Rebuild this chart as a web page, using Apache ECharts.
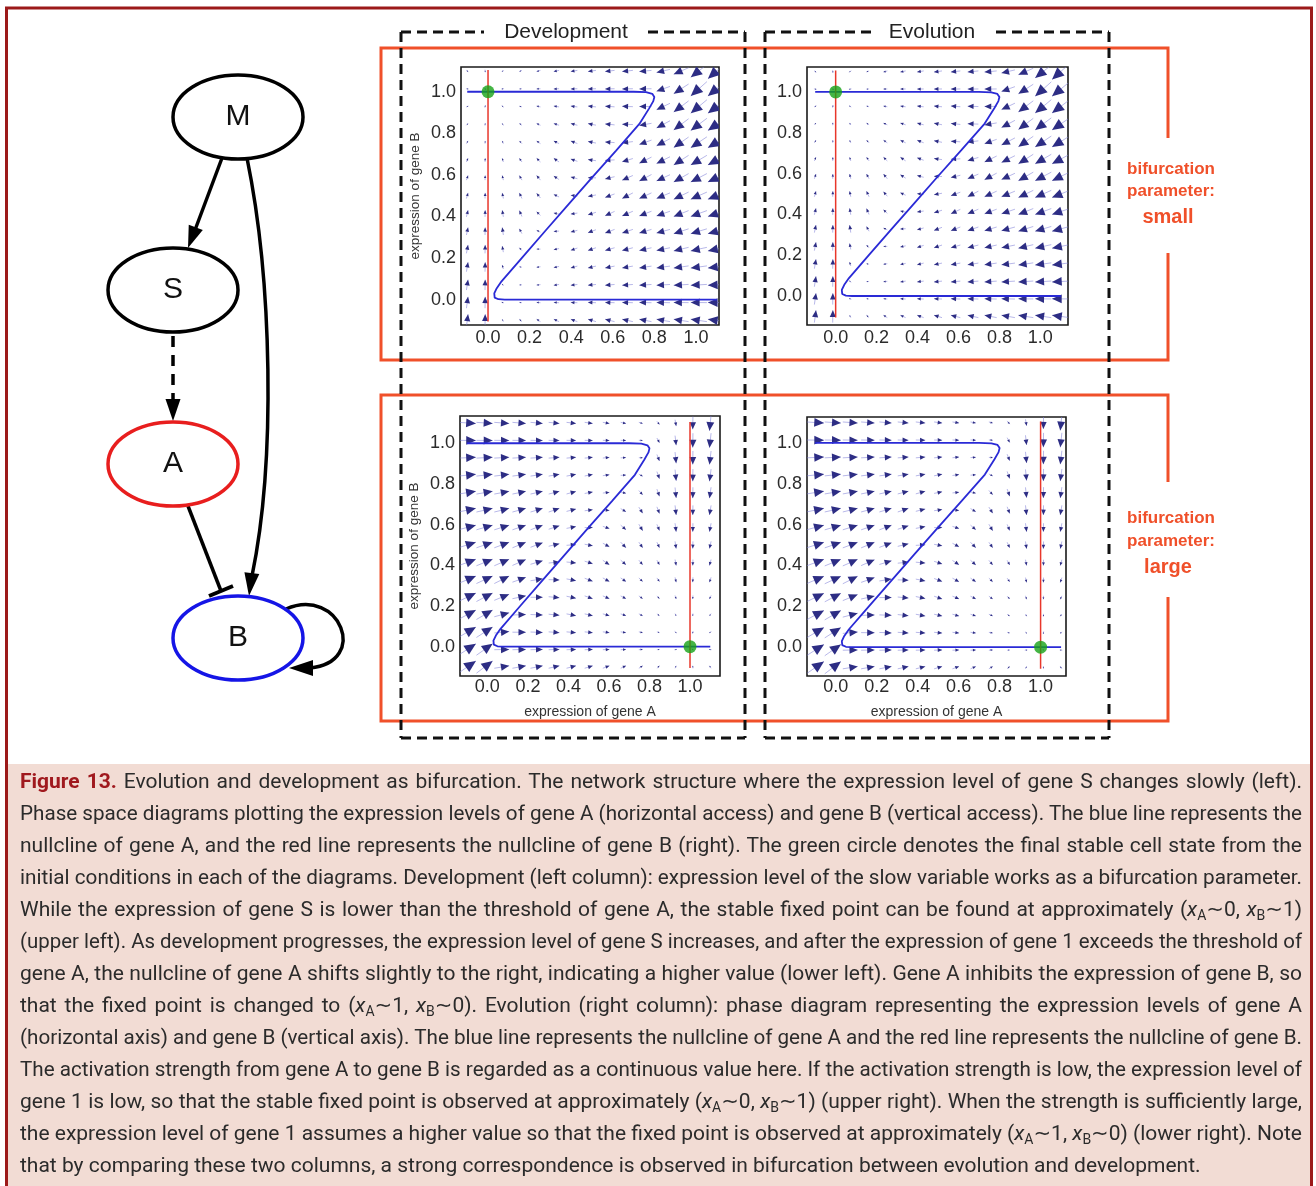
<!DOCTYPE html>
<html>
<head>
<meta charset="utf-8">
<script src="https://cdn.jsdelivr.net/npm/echarts@6/dist/echarts.min.js"></script>
<style>
  html, body { margin: 0; padding: 0; background: #fff; }
  #wrap { position: relative; width: 1316px; height: 1186px; overflow: hidden; }
  #chart { position: absolute; left: 0; top: 0; width: 1316px; height: 1186px; }
  #caption { position: absolute; left: 20px; top: 765px; width: 1282px; z-index: 2;
    font-family: Roboto, 'Noto Sans', 'DejaVu Sans', sans-serif; font-size: 21px; color: #2b2b2b; }
  #caption .ln { height: 32px; line-height: 32px; white-space: nowrap; }
  #caption .fig { color: #a0191e; font-weight: bold; }
  #caption sub { font-size: 14px; vertical-align: -4px; line-height: 0; }
</style>
</head>
<body>
<div id="wrap">
  <div id="chart"></div>
  <div id="caption"></div>
</div>
<script>
// ---- data ----
const tickValues = [0, 0.2, 0.4, 0.6, 0.8, 1.0];

// sample positions of the quiver arrows (same on both axes)
const arrowPos = [-0.1, -0.014, 0.071, 0.157, 0.243, 0.329, 0.414, 0.5, 0.586, 0.671, 0.757, 0.843, 0.929, 1.014, 1.1];

// horizontal flow (gene A) per column, small / large bifurcation parameter
const flowASmall = [1.0, 0.1, -0.7, -1.6, -2.4, -3.3, -4.1, -5.0, -5.9, -6.7, -7.6, -8.4, -9.3, -10.1, -11.0];
const flowALarge = [11.0, 10.1, 9.3, 8.4, 7.6, 6.7, 5.9, 5.0, 4.1, 3.3, 2.4, 1.6, 0.7, -0.1, -1.0];

// vertical flow (gene B), rows from y = 1.1 (top) down to y = -0.1
const flowB = [
  [-0.7, -0.7, -0.7, -0.7, -0.7, -0.7, -0.7, -0.7, -0.7, -0.7, -0.7, -2.0, -4.0, -8.0, -9.9],
  [-0.1, -0.1, -0.1, -0.1, -0.1, -0.1, -0.1, -0.1, -0.1, -0.1, -0.1, -3.0, -6.0, -9.0, -9.1],
  [ 0.5,  0.5,  0.5,  0.5,  0.5,  0.5,  0.5,  0.5,  0.4,  0.2,  0.0, -4.0, -7.0, -8.4, -8.4],
  [ 1.1,  1.1,  1.1,  1.1,  1.1,  1.1,  1.1,  1.0,  0.6,  0.2, -1.3, -4.5, -7.0, -7.6, -7.6],
  [ 1.7,  1.7,  1.7,  1.7,  1.7,  1.7,  1.6,  1.0,  0.4, -0.8, -2.7, -4.5, -6.5, -6.8, -6.8],
  [ 2.3,  2.3,  2.3,  2.3,  2.3,  2.3,  1.5,  0.7, -0.3, -2.0, -3.8, -4.2, -6.0, -6.0, -6.0],
  [ 2.9,  2.9,  2.9,  2.9,  2.9,  2.2,  1.1,  0.1, -1.4, -2.9, -4.1, -3.9, -5.3, -5.3, -5.3],
  [ 3.5,  3.5,  3.5,  3.5,  2.9,  1.6,  0.4, -0.9, -2.2, -3.5, -3.5, -3.5, -4.5, -4.5, -4.5],
  [ 4.1,  4.1,  4.1,  3.7,  2.3,  0.7, -0.6, -1.6, -2.7, -2.9, -2.9, -2.9, -3.7, -3.7, -3.7],
  [ 4.7,  4.7,  4.7,  3.0,  1.2, -0.2, -1.1, -1.9, -2.3, -2.3, -2.3, -2.3, -3.0, -3.0, -3.0],
  [ 5.3,  5.3,  3.8,  1.8,  0.0, -0.7, -1.3, -1.7, -1.7, -1.7, -1.7, -1.7, -2.2, -2.2, -2.2],
  [ 5.9,  5.9,  2.5,  0.3, -0.3, -0.7, -1.1, -1.1, -1.1, -1.1, -1.1, -1.1, -1.4, -1.4, -1.4],
  [ 6.5,  6.5,  0.9, -0.1, -0.3, -0.5, -0.5, -0.5, -0.5, -0.5, -0.5, -0.5, -0.6, -0.6, -0.6],
  [ 7.1,  7.1,  0.2,  0.2,  0.2,  0.2,  0.2,  0.2,  0.2,  0.2,  0.2,  0.2,  0.1,  0.1,  0.1],
  [ 7.7,  7.7,  1.5,  1.5,  1.5,  1.5,  1.5,  1.5,  1.5,  1.5,  1.5,  1.5,  1.5,  1.5,  1.5]
];

// Z-shaped blue nullcline
const zNullcline = [
  [-0.1, 1.0], [0.70, 1.0], [0.76, 0.998], [0.79, 0.99], [0.80, 0.975], [0.795, 0.955],
  [0.775, 0.92], [0.728, 0.845], [0.615, 0.716], [0.501, 0.588], [0.388, 0.459],
  [0.275, 0.33], [0.162, 0.2], [0.065, 0.088], [0.042, 0.055], [0.03, 0.03],
  [0.032, 0.01], [0.05, 0.002], [0.08, 0.0], [1.1, 0.0]
];
const redSpan = [-0.105, 1.105];
const redXSmall = 0.0, redXLarge = 1.0;
const fixedSmall = [0.0, 1.0], fixedLarge = [1.0, 0.0];

// ---- styling ----
const FONT = "'Liberation Sans', Arial, sans-serif";
const BLUE = '#2a2ad6', RED = '#e8372b', GREEN = '#16a316', ORANGE = '#f0502a';
const ARROW_SCALE = 1.6;

const panels = [
  { grid: { left: 461, top: 67, width: 258, height: 258 }, x: [-0.13, 1.111], y: [-0.122, 1.119],
    flowA: flowASmall, red: redXSmall, fixed: fixedSmall, yName: true, xName: false },
  { grid: { left: 807, top: 67, width: 261, height: 258 }, x: [-0.14, 1.135], y: [-0.142, 1.122],
    flowA: flowASmall, red: redXSmall, fixed: fixedSmall, yName: false, xName: false },
  { grid: { left: 460, top: 416, width: 260, height: 260 }, x: [-0.135, 1.148], y: [-0.144, 1.134],
    flowA: flowALarge, red: redXLarge, fixed: fixedLarge, yName: true, xName: true },
  { grid: { left: 807, top: 417, width: 259, height: 259 }, x: [-0.14, 1.124], y: [-0.141, 1.127],
    flowA: flowALarge, red: redXLarge, fixed: fixedLarge, yName: false, xName: true }
];

function arrowData(flowA) {
  const out = [];
  flowB.forEach((row, r) => {
    row.forEach((v, c) => {
      out.push([arrowPos[c], arrowPos[arrowPos.length - 1 - r], flowA[c], v]);
    });
  });
  return out;
}

function renderArrow(params, api) {
  const u = api.value(2), v = api.value(3);
  const p = api.coord([api.value(0), api.value(1)]);
  const mag = Math.hypot(u, v);
  if (mag < 0.01) return;
  const L = Math.max(mag * ARROW_SCALE, 2.5);
  const dx = u / mag, dy = -v / mag;
  const tail = [p[0] - dx * L / 2, p[1] - dy * L / 2];
  const tip = [p[0] + dx * L / 2, p[1] + dy * L / 2];
  const hl = Math.min(L * 0.55, 12);
  const hw = hl * 0.45;
  const bx = tip[0] - dx * hl, by = tip[1] - dy * hl;
  return {
    type: 'group',
    children: [
      { type: 'line', shape: { x1: tail[0], y1: tail[1], x2: tip[0], y2: tip[1] },
        style: { stroke: 'rgba(125,125,215,0.55)', lineWidth: 1 } },
      { type: 'polygon', shape: { points: [tip, [bx - dy * hw, by + dx * hw], [bx + dy * hw, by - dx * hw]] },
        style: { fill: '#2d2d84' } }
    ]
  };
}

// ---- decoration (network diagram, boxes, labels) ----
function head(tip, from, len, w, fill) {
  const dx = tip[0] - from[0], dy = tip[1] - from[1], d = Math.hypot(dx, dy);
  const ux = dx / d, uy = dy / d;
  const bx = tip[0] - ux * len, by = tip[1] - uy * len;
  return { type: 'polygon', shape: { points: [tip, [bx - uy * w / 2, by + ux * w / 2], [bx + uy * w / 2, by - ux * w / 2]] },
    style: { fill: fill || '#000' } };
}
function seg(x1, y1, x2, y2, stroke, lw, dash) {
  return { type: 'line', shape: { x1, y1, x2, y2 }, style: { stroke, lineWidth: lw, lineDash: dash || null } };
}
function label(text, x, y, size, color, weight, family) {
  return { type: 'text', x, y, style: { text, fill: color, fontSize: size, fontWeight: weight || 'normal',
    fontFamily: family || FONT, align: 'center', verticalAlign: 'middle', textAlign: 'center', textVerticalAlign: 'middle' } };
}
function node(cx, cy, name, stroke) {
  return [
    { type: 'ellipse', shape: { cx, cy, rx: 65, ry: 42 }, style: { fill: '#fff', stroke, lineWidth: 3.5 } },
    label(name, cx, cy, 30, '#111')
  ];
}

const dash = [10, 6];
const graphics = [
  { type: 'rect', z: -10, shape: { x: 0, y: 0, width: 1316, height: 1186 }, style: { fill: '#fff' } },
  { type: 'rect', z: -9, shape: { x: 7, y: 764, width: 1304, height: 430 }, style: { fill: '#f2dcd4' } },
  { type: 'rect', z: -8, shape: { x: 6.5, y: 8, width: 1305, height: 1200 }, style: { fill: 'none', stroke: '#9c1a1a', lineWidth: 3 } },

  // orange bifurcation boxes
  { type: 'polyline', shape: { points: [[1168, 138], [1168, 48], [381, 48], [381, 360], [1168, 360], [1168, 253]] },
    style: { stroke: ORANGE, lineWidth: 3, fill: 'none' } },
  { type: 'polyline', shape: { points: [[1168, 482], [1168, 395], [381, 395], [381, 721], [1168, 721], [1168, 597]] },
    style: { stroke: ORANGE, lineWidth: 3, fill: 'none' } },
  label('bifurcation', 1171, 169, 17, ORANGE, 'bold'),
  label('parameter:', 1171, 191, 17, ORANGE, 'bold'),
  label('small', 1168, 217, 20, ORANGE, 'bold'),
  label('bifurcation', 1171, 518, 17, ORANGE, 'bold'),
  label('parameter:', 1171, 541, 17, ORANGE, 'bold'),
  label('large', 1168, 567, 20, ORANGE, 'bold'),

  // dashed column boxes
  seg(401, 32, 484, 32, '#111', 3, dash), seg(648, 32, 745, 32, '#111', 3, dash),
  seg(401, 32, 401, 738, '#111', 3, dash), seg(745, 32, 745, 738, '#111', 3, dash),
  seg(401, 738, 745, 738, '#111', 3, dash),
  seg(765, 32, 874, 32, '#111', 3, dash), seg(996, 32, 1109, 32, '#111', 3, dash),
  seg(765, 32, 765, 738, '#111', 3, dash), seg(1109, 32, 1109, 738, '#111', 3, dash),
  seg(765, 738, 1109, 738, '#111', 3, dash),
  label('Development', 566, 32, 21, '#222'),
  label('Evolution', 932, 32, 21, '#222'),

  // network edges
  seg(222, 158, 195, 230, '#000', 3.5),
  head([188, 248], [222, 158], 22, 15),
  seg(173, 336, 173, 400, '#000', 3.5, [11, 8]),
  head([173, 421], [173, 336], 22, 15),
  { type: 'bezierCurve', shape: { x1: 247, y1: 158, cpx1: 272, cpy1: 280, cpx2: 276, cpy2: 460, x2: 252, y2: 576 },
    style: { stroke: '#000', lineWidth: 3.5, fill: 'none' } },
  head([249, 596], [252, 572], 23, 15),
  seg(188, 506, 221, 591, '#000', 3.5),
  seg(209, 596, 233, 586, '#000', 4),
  { type: 'bezierCurve', shape: { x1: 286, y1: 609, cpx1: 340, cpy1: 586, cpx2: 370, cpy2: 662, x2: 310, y2: 668 },
    style: { stroke: '#000', lineWidth: 3.5, fill: 'none' } },
  head([289, 668], [314, 668], 24, 16),
  ...node(238, 117, 'M', '#000'),
  ...node(173, 290, 'S', '#000'),
  ...node(173, 464, 'A', '#e81e1e'),
  ...node(238, 638, 'B', '#1515e6')
];

const series = [];
panels.forEach((p, i) => {
  series.push({ type: 'custom', xAxisIndex: i, yAxisIndex: i, renderItem: renderArrow, data: arrowData(p.flowA),
    encode: { x: 0, y: 1 }, clip: true, z: 2, silent: true });
  series.push({ type: 'line', xAxisIndex: i, yAxisIndex: i, data: zNullcline, showSymbol: false, smooth: false,
    lineStyle: { color: BLUE, width: 1.8 }, z: 3, silent: true });
  series.push({ type: 'line', xAxisIndex: i, yAxisIndex: i, data: [[p.red, redSpan[0]], [p.red, redSpan[1]]],
    showSymbol: false, lineStyle: { color: RED, width: 1.5 }, z: 4, silent: true });
  series.push({ type: 'scatter', xAxisIndex: i, yAxisIndex: i, data: [p.fixed], symbolSize: 13,
    itemStyle: { color: GREEN }, z: 5, silent: true });
});

const chart = echarts.init(document.getElementById('chart'), null, { renderer: 'canvas' });
chart.setOption({
  animation: false,
  backgroundColor: '#fff',
  grid: panels.map(p => Object.assign({}, p.grid, { show: true, backgroundColor: '#fff', borderColor: '#1a1a1a',
    borderWidth: 1.6, containLabel: false, outerBoundsMode: 'none' })),
  xAxis: panels.map((p, i) => ({
    gridIndex: i, type: 'value', min: p.x[0], max: p.x[1],
    name: p.xName ? 'expression of gene A' : '', nameLocation: 'middle', nameGap: 29,
    nameTextStyle: { fontFamily: FONT, fontSize: 14, color: '#333' },
    axisLine: { show: false }, axisTick: { show: false }, splitLine: { show: false },
    axisLabel: { customValues: tickValues, formatter: v => v.toFixed(1), fontFamily: FONT, fontSize: 18,
      color: '#2b2b2b', margin: i < 2 ? 4 : 2 }
  })),
  yAxis: panels.map((p, i) => ({
    gridIndex: i, type: 'value', min: p.y[0], max: p.y[1],
    name: p.yName ? 'expression of gene B' : '', nameLocation: 'middle', nameGap: 39, nameRotate: 90,
    nameTextStyle: { fontFamily: FONT, fontSize: 13.5, color: '#333' },
    axisLine: { show: false }, axisTick: { show: false }, splitLine: { show: false },
    axisLabel: { customValues: tickValues, formatter: v => v.toFixed(1), fontFamily: FONT, fontSize: 18,
      color: '#2b2b2b', margin: 5 }
  })),
  series: series,
  graphic: { elements: graphics }
});

// ---- caption ----
const xa = '<i>x</i><sub>A</sub>', xb = '<i>x</i><sub>B</sub>';
const captionLines = [
  '<span class="fig">Figure 13.</span> Evolution and development as bifurcation. The network structure where the expression level of gene S changes slowly (left).',
  'Phase space diagrams plotting the expression levels of gene A (horizontal access) and gene B (vertical access). The blue line represents the',
  'nullcline of gene A, and the red line represents the nullcline of gene B (right). The green circle denotes the final stable cell state from the',
  'initial conditions in each of the diagrams. Development (left column): expression level of the slow variable works as a bifurcation parameter.',
  'While the expression of gene S is lower than the threshold of gene A, the stable fixed point can be found at approximately (' + xa + '\u223C0, ' + xb + '\u223C1)',
  '(upper left). As development progresses, the expression level of gene S increases, and after the expression of gene 1 exceeds the threshold of',
  'gene A, the nullcline of gene A shifts slightly to the right, indicating a higher value (lower left). Gene A inhibits the expression of gene B, so',
  'that the fixed point is changed to (' + xa + '\u223C1, ' + xb + '\u223C0). Evolution (right column): phase diagram representing the expression levels of gene A',
  '(horizontal axis) and gene B (vertical axis). The blue line represents the nullcline of gene A and the red line represents the nullcline of gene B.',
  'The activation strength from gene A to gene B is regarded as a continuous value here. If the activation strength is low, the expression level of',
  'gene 1 is low, so that the stable fixed point is observed at approximately (' + xa + '\u223C0, ' + xb + '\u223C1) (upper right). When the strength is sufficiently large,',
  'the expression level of gene 1 assumes a higher value so that the fixed point is observed at approximately (' + xa + '\u223C1, ' + xb + '\u223C0) (lower right). Note',
  'that by comparing these two columns, a strong correspondence is observed in bifurcation between evolution and development.'
];
const CAP_W = 1282;
const cap = document.getElementById('caption');
captionLines.forEach((html, i) => {
  const d = document.createElement('div');
  d.className = 'ln';
  const s = document.createElement('span');
  s.innerHTML = html;
  d.appendChild(s);
  cap.appendChild(d);
  const w = s.getBoundingClientRect().width;
  if (w > CAP_W) {
    s.style.display = 'inline-block';
    s.style.transformOrigin = '0 50%';
    s.style.transform = 'scaleX(' + (CAP_W / w) + ')';
  } else if (i < captionLines.length - 1) {
    const spaces = (s.textContent.match(/ /g) || []).length;
    s.style.wordSpacing = ((CAP_W - w) / spaces) + 'px';
  }
});
</script>
</body>
</html>
